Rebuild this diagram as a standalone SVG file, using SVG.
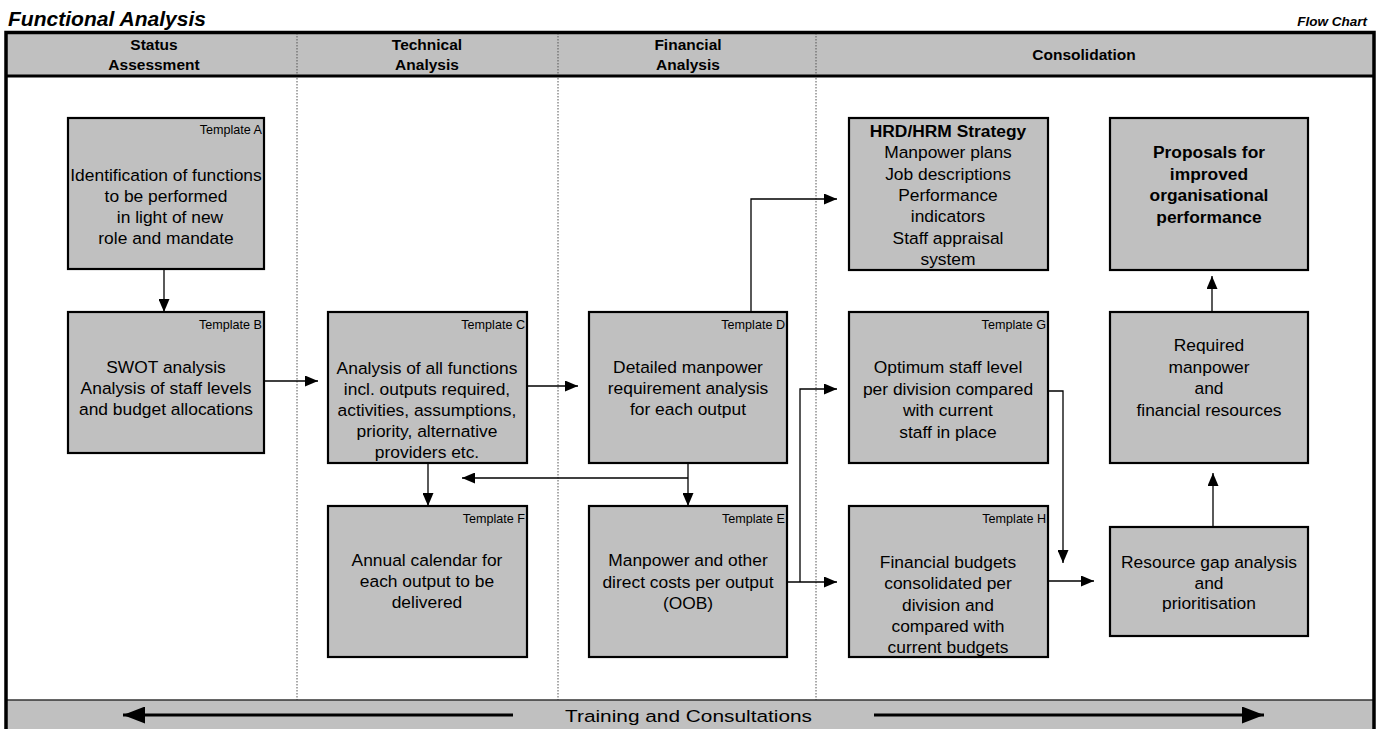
<svg xmlns="http://www.w3.org/2000/svg" width="1382" height="729" viewBox="0 0 1382 729">
<style>
.box{fill:#c0c0c0;stroke:#000;stroke-width:2.2}
.band{fill:#c0c0c0}
.frame{stroke:#000;stroke-width:3.5;fill:none}
.lane{stroke:#555;stroke-width:1;stroke-dasharray:1.5 1.5;fill:none}
.tpl{font-family:"Liberation Sans",Arial,sans-serif;font-size:12.6px;text-anchor:end;fill:#000}
.body{font-family:"Liberation Sans",Arial,sans-serif;font-size:17.4px;text-anchor:middle;fill:#000}
.bold{font-weight:bold}
.hdr{font-family:"Liberation Sans",Arial,sans-serif;font-size:15.5px;font-weight:bold;text-anchor:middle;fill:#000}
.title{font-family:"Liberation Sans",Arial,sans-serif;font-weight:bold;font-style:italic;fill:#000}
.conn{stroke:#000;stroke-width:1.3;fill:none}
.big{stroke:#000;stroke-width:3.2;fill:none}
</style>
<defs>
<marker id="ah" markerWidth="13" markerHeight="11" refX="13" refY="5.5" orient="auto" markerUnits="userSpaceOnUse"><path d="M0,0 L13,5.5 L0,11 z" fill="#000"/></marker>
<marker id="bh" markerWidth="22" markerHeight="17" refX="22" refY="8.5" orient="auto" markerUnits="userSpaceOnUse"><path d="M0,0 L22,8.5 L0,17 z" fill="#000"/></marker>
</defs>
<rect width="1382" height="729" fill="#fff"/>
<text class="title" x="8" y="26" font-size="19.5" textLength="198" lengthAdjust="spacingAndGlyphs">Functional Analysis</text>
<text class="title" x="1367" y="26" font-size="13.5" text-anchor="end">Flow Chart</text>
<g id="frame">
<rect class="band" x="6" y="33" width="1368" height="43"/>
<rect class="band" x="6" y="700" width="1368" height="29"/>
<line class="lane" x1="297" y1="33" x2="297" y2="700"/>
<line class="lane" x1="558" y1="33" x2="558" y2="700"/>
<line class="lane" x1="816" y1="33" x2="816" y2="700"/>
<line x1="6" y1="700" x2="1374" y2="700" stroke="#333" stroke-width="1.5"/>
<path class="frame" d="M6,729 V32.5 H1374 V729"/>
<line x1="6" y1="76" x2="1374" y2="76" stroke="#000" stroke-width="3"/>
<text class="hdr" x="154" y="50">Status</text>
<text class="hdr" x="154" y="70">Assessment</text>
<text class="hdr" x="427" y="50">Technical</text>
<text class="hdr" x="427" y="70">Analysis</text>
<text class="hdr" x="688" y="50">Financial</text>
<text class="hdr" x="688" y="70">Analysis</text>
<text class="hdr" x="1084" y="60">Consolidation</text>
<text class="body" x="688.5" y="722" font-size="20.5" textLength="247" lengthAdjust="spacingAndGlyphs">Training and Consultations</text>
</g>
<g id="box-a"><rect class="box" x="68" y="118" width="196" height="151"/><text class="tpl" x="262" y="134">Template A</text>
<text class="body" x="166" y="181">Identification of functions<tspan x="166" dy="21">to be performed</tspan><tspan x="170" dy="21">in light of new</tspan><tspan x="166" dy="21">role and mandate</tspan></text></g>
<g id="box-b"><rect class="box" x="68" y="312" width="196" height="141"/><text class="tpl" x="262" y="329">Template B</text>
<text class="body" x="166" y="373">SWOT analysis<tspan x="166" dy="21">Analysis of staff levels</tspan><tspan x="166" dy="21">and budget allocations</tspan></text></g>
<g id="box-c"><rect class="box" x="328" y="312" width="199" height="151"/><text class="tpl" x="525" y="329">Template C</text>
<text class="body" x="427" y="374">Analysis of all functions<tspan x="427" dy="21">incl. outputs required,</tspan><tspan x="427" dy="21">activities, assumptions,</tspan><tspan x="427" dy="21">priority, alternative</tspan><tspan x="427" dy="21">providers etc.</tspan></text></g>
<g id="box-f"><rect class="box" x="328" y="506" width="199" height="151"/><text class="tpl" x="525" y="523">Template F</text>
<text class="body" x="427" y="566">Annual calendar for<tspan x="427" dy="21">each output to be</tspan><tspan x="427" dy="21">delivered</tspan></text></g>
<g id="box-d"><rect class="box" x="589" y="312" width="198" height="151"/><text class="tpl" x="785" y="329">Template D</text>
<text class="body" x="688" y="373">Detailed manpower<tspan x="688" dy="21">requirement analysis</tspan><tspan x="688" dy="21">for each output</tspan></text></g>
<g id="box-e"><rect class="box" x="589" y="506" width="198" height="151"/><text class="tpl" x="785" y="523">Template E</text>
<text class="body" x="688" y="566">Manpower and other<tspan x="688" dy="21.5">direct costs per output</tspan><tspan x="688" dy="21.5">(OOB)</tspan></text></g>
<g id="box-hrd"><rect class="box" x="849" y="118" width="199" height="152"/>
<text class="body" x="948" y="137"><tspan class="bold">HRD/HRM Strategy</tspan><tspan x="948" dy="21.3">Manpower plans</tspan><tspan x="948" dy="21.3">Job descriptions</tspan><tspan x="948" dy="21.3">Performance</tspan><tspan x="948" dy="21.3">indicators</tspan><tspan x="948" dy="21.3">Staff appraisal</tspan><tspan x="948" dy="21.3">system</tspan></text></g>
<g id="box-g"><rect class="box" x="849" y="312" width="199" height="151"/><text class="tpl" x="1046" y="329">Template G</text>
<text class="body" x="948" y="373">Optimum staff level<tspan x="948" dy="21.5">per division compared</tspan><tspan x="948" dy="21.5">with current</tspan><tspan x="948" dy="21.5">staff in place</tspan></text></g>
<g id="box-h"><rect class="box" x="849" y="506" width="199" height="151"/><text class="tpl" x="1046" y="523">Template H</text>
<text class="body" x="948" y="568">Financial budgets<tspan x="948" dy="21.3">consolidated per</tspan><tspan x="948" dy="21.3">division and</tspan><tspan x="948" dy="21.3">compared with</tspan><tspan x="948" dy="21.3">current budgets</tspan></text></g>
<g id="box-proposals"><rect class="box" x="1110" y="118" width="198" height="152"/>
<text class="body bold" x="1209" y="158">Proposals for<tspan x="1209" dy="21.5">improved</tspan><tspan x="1209" dy="21.5">organisational</tspan><tspan x="1209" dy="21.5">performance</tspan></text></g>
<g id="box-required"><rect class="box" x="1110" y="312" width="198" height="151"/>
<text class="body" x="1209" y="351">Required<tspan x="1209" dy="21.5">manpower</tspan><tspan x="1209" dy="21.5">and</tspan><tspan x="1209" dy="21.5">financial resources</tspan></text></g>
<g id="box-gap"><rect class="box" x="1110" y="527" width="198" height="109"/>
<text class="body" x="1209" y="568">Resource gap analysis<tspan x="1209" dy="20.7">and</tspan><tspan x="1209" dy="20.7">prioritisation</tspan></text></g>
<g id="connectors">
<path class="conn" d="M164,269 V312" marker-end="url(#ah)"/>
<path class="conn" d="M264,381 H318" marker-end="url(#ah)"/>
<path class="conn" d="M527,386 H578" marker-end="url(#ah)"/>
<path class="conn" d="M428,463 V506" marker-end="url(#ah)"/>
<path class="conn" d="M688,463 V506" marker-end="url(#ah)"/>
<path class="conn" d="M688,478 H462" marker-end="url(#ah)"/>
<path class="conn" d="M751,312 V199 H837" marker-end="url(#ah)"/>
<path class="conn" d="M787,582 H837" marker-end="url(#ah)"/>
<path class="conn" d="M800,582 V389 H837" marker-end="url(#ah)"/>
<path class="conn" d="M1048,391 H1063 V563" marker-end="url(#ah)"/>
<path class="conn" d="M1048,581 H1094" marker-end="url(#ah)"/>
<path class="conn" d="M1213,527 V473" marker-end="url(#ah)"/>
<path class="conn" d="M1212,312 V276" marker-end="url(#ah)"/>
<path class="big" d="M513,715 H123" marker-end="url(#bh)"/>
<path class="big" d="M874,715 H1264" marker-end="url(#bh)"/>
</g>
</svg>
